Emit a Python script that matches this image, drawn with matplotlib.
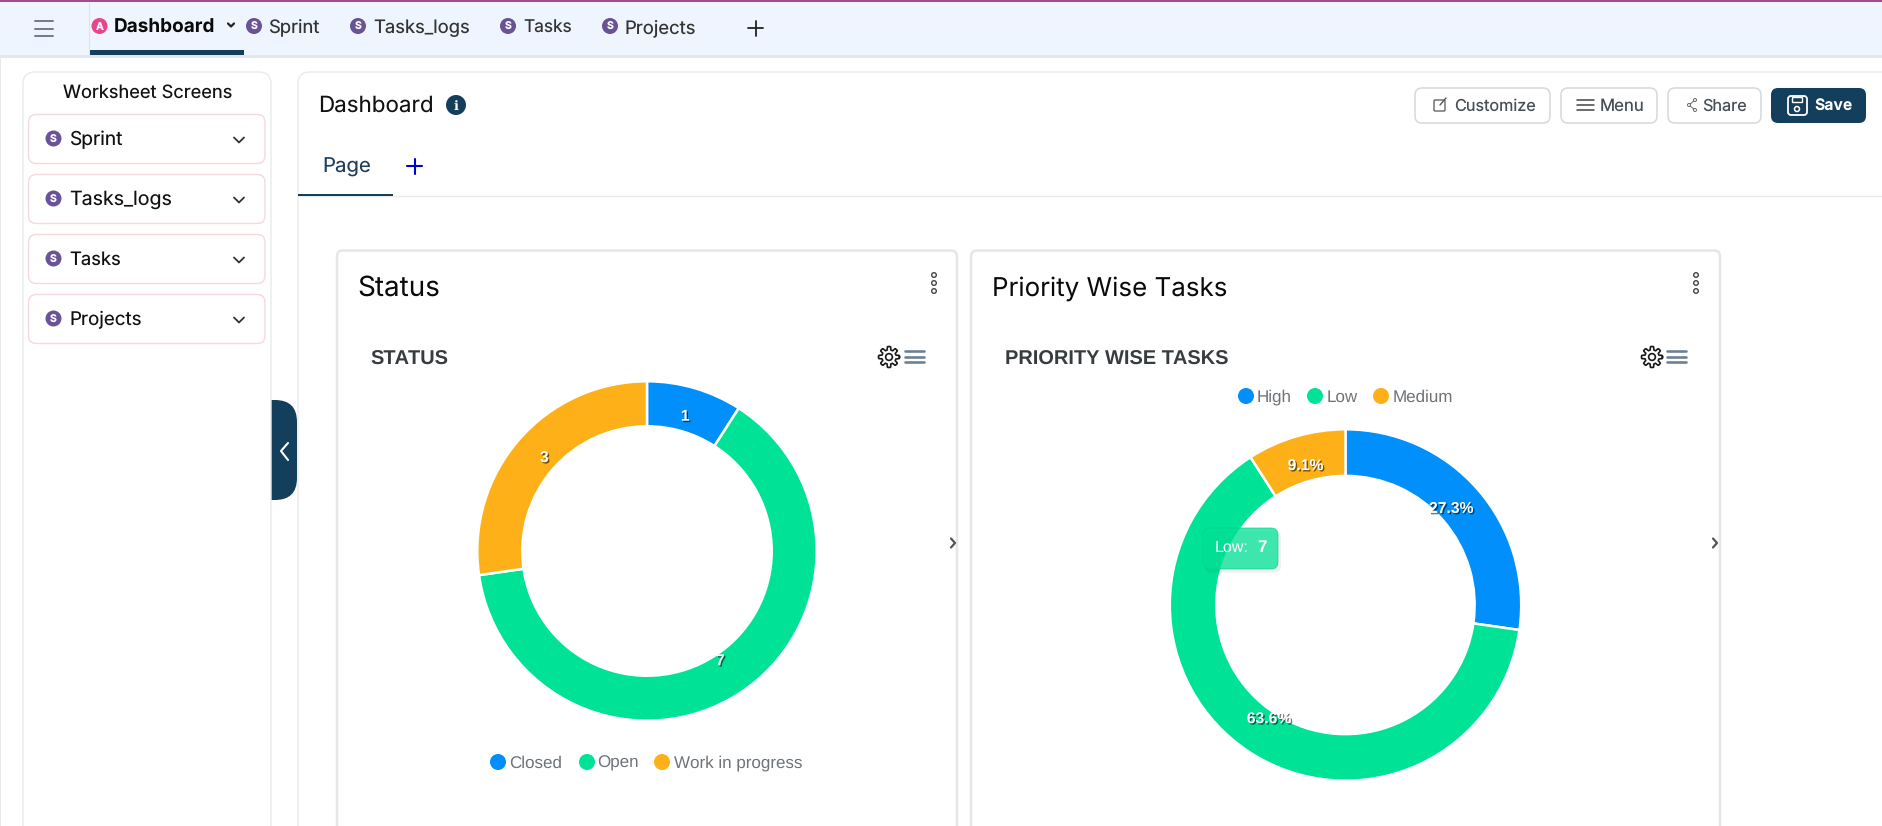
import numpy as np
import matplotlib
matplotlib.use("Agg")
import matplotlib.pyplot as plt
import matplotlib.patheffects as pe
from matplotlib.patches import FancyBboxPatch, Circle, Rectangle
from matplotlib.textpath import TextPath
from matplotlib.font_manager import FontProperties

plt.rcParams["text.hinting"] = "no_hinting"
plt.rcParams["text.hinting_factor"] = 1

W, H = 1882, 826

# ---- chart data ----
status_categories = ["Closed", "Open", "Work in progress"]
status_values = [1, 7, 3]
status_labels = ["1", "7", "3"]
priority_categories = ["High", "Low", "Medium"]
priority_values = [3, 7, 1]
priority_labels = ["27.3%", "63.6%", "9.1%"]
slice_colors = ["#008ffb", "#00e396", "#feb019"]

# ---- interface text ----
tab_names = ["Sprint", "Tasks_logs", "Tasks", "Projects"]
side_names = ["Sprint", "Tasks_logs", "Tasks", "Projects"]

DARK = "#133f5d"
UI_FONT = "Inter"
CHART_FONT = "Liberation Sans"
GREY = "#6e7378"

fig = plt.figure(figsize=(W / 100, H / 100), dpi=100, facecolor="#ffffff")


def overlay(z):
    ax = fig.add_axes([0, 0, 1, 1], zorder=z)
    ax.set_xlim(0, W)
    ax.set_ylim(H, 0)
    ax.axis("off")
    ax.patch.set_alpha(0)
    return ax


ui = overlay(0)
top = overlay(5)


def rbox(ax, x0, y0, x1, y1, rad, fc="white", ec="none", lw=1.0, alpha=None, z=1):
    p = FancyBboxPatch((x0, y0), x1 - x0, y1 - y0,
                       boxstyle=f"round,pad=0,rounding_size={rad}",
                       fc=fc, ec=ec, lw=lw, alpha=alpha, zorder=z)
    ax.add_patch(p)
    return p


def fit(ax, x0, x1, y, s, family=UI_FONT, weight="normal", color="#111111", z=4):
    """Text whose size is chosen so it spans x0..x1 pixels; y is the baseline."""
    fp = FontProperties(family=family, weight=weight)
    tp = TextPath((0, 0), s, size=10, prop=fp)
    bb = tp.get_extents()
    px_per_10pt = bb.width * 100 / 72
    size = 10 * (x1 - x0) / px_per_10pt
    return ax.text(x0, y, s, family=family, weight=weight, color=color,
                   fontsize=size, va="baseline", ha="left", zorder=z)


def seg(ax, xs, ys, color, lw=1.2, z=4):
    ax.plot(xs, ys, color=color, lw=lw, solid_capstyle="round",
            solid_joinstyle="round", zorder=z)


def burger(ax, x0, x1, y0, y1, color, lw=1.4):
    for y in np.linspace(y0, y1, 3):
        seg(ax, [x0, x1], [y, y], color, lw)


def badge(ax, x, y, letter="S", color="#6a5296", r=8):
    ax.add_patch(Circle((x, y), r, fc=color, ec="none", zorder=3))
    ax.text(x, y, letter, color="white", fontsize=7.5, weight="bold", family=UI_FONT,
            ha="center", va="center_baseline", zorder=4)


def chevron_down(ax, x, y, s=5, color="#333333", lw=1.3):
    seg(ax, [x - s, x, x + s], [y - s / 2, y + s / 2, y - s / 2], color, lw)


def plus(ax, x, y, s, color, lw=1.4):
    seg(ax, [x - s, x + s], [y, y], color, lw)
    seg(ax, [x, x], [y - s, y + s], color, lw)


def gear(ax, x, y, r=10.5):
    t = np.linspace(0, 2 * np.pi, 161)
    rr = r * (0.84 + 0.16 * np.tanh(4 * np.cos(8 * t)))
    ax.plot(x + rr * np.cos(t), y + rr * np.sin(t), color="#1a1a1a", lw=1.2, zorder=4)
    ax.add_patch(Circle((x, y), r * 0.32, fc="none", ec="#1a1a1a", lw=1.2, zorder=4))


def dots(ax, x, ys):
    for y in ys:
        ax.add_patch(Circle((x, y), 2.3, fc="white", ec="#444444", lw=1.0, zorder=4))


# ---- header ----
ui.add_patch(Rectangle((0, 0), W, 2, fc="#a04a96", ec="none", zorder=3))
ui.add_patch(Rectangle((0, 2), W, 53, fc="#eef5fe", ec="none", zorder=1))
ui.add_patch(Rectangle((0, 55), W, 2.5, fc="#e3e6ea", ec="none", zorder=2))
ui.add_patch(Rectangle((0, 57), 1.5, H, fc="#e8eaed", ec="none", zorder=2))
seg(ui, [89, 89], [2, 55], "#dde3ea", 0.8)
burger(ui, 35, 53, 21, 36, "#6f7a8e")
badge(ui, 99.5, 26, "A", "#e8458f")
fit(ui, 114, 213, 33, "Dashboard", weight="bold", color="#0a0a0a")
chevron_down(ui, 231, 25, 3, "#222222", 1.6)
ui.add_patch(Rectangle((90, 50), 154, 5, fc=DARK, ec="none", zorder=3))
tab_badges = [254, 358, 508, 610]
tab_text = [(268, 318), (373, 468), (523, 570), (625, 694)]
for name, bx, (t0, t1) in zip(tab_names, tab_badges, tab_text):
    badge(ui, bx, 26, "S")
    fit(ui, t0, t1, 33, name, color="#333333")
plus(ui, 756, 28, 7.5, "#222222", 1.3)

# ---- main panel, collapse tab, left panel ----
rbox(ui, 298, 72, W + 40, H + 40, 12, fc="white", ec="#e8eaed", lw=1.0, z=1)
rbox(ui, 250, 400, 297, 500, 22, fc=DARK, z=1.1)
rbox(ui, 23, 72, 271, H + 40, 12, fc="white", ec="#e8eaed", lw=1.0, z=1.2)
seg(ui, [288, 281, 288], [443, 451, 460], "white", 1.5)

fit(ui, 63, 231, 97.5, "Worksheet Screens", color="#111111")
side_y = [139, 199, 259, 319]
side_text = [(69, 121), (69, 170), (69, 119), (69, 139)]
for name, y, (t0, t1) in zip(side_names, side_y, side_text):
    rbox(ui, 28.5, y - 24.5, 265, y + 24.5, 8, fc="white", ec="#f6d8dd", lw=1.0, z=2)
    badge(ui, 53.5, y - 0.5)
    fit(ui, t0, t1, y + 6, name, color="#111111")
    chevron_down(ui, 239, y + 1)

# ---- dashboard heading ----
fit(ui, 318, 430, 112, "Dashboard", color="#111111")
ui.add_patch(Circle((456, 105), 10, fc=DARK, ec="none", zorder=3))
ui.text(456, 105, "i", color="white", fontsize=9, weight="bold", family="DejaVu Serif",
        ha="center", va="center_baseline", zorder=4)

buttons = [("Customize", 1415, 1550, 1454, 1534),
           ("Menu", 1561, 1657, 1600, 1642),
           ("Share", 1668, 1761, 1702, 1745)]
for label, b0, b1, t0, t1 in buttons:
    rbox(ui, b0, 88, b1, 123, 7, fc="white", ec="#d5d8dc", lw=1.1, z=2)
    fit(ui, t0, t1, 110.5, label, color="#454d55")
rbox(ui, 1771, 88, 1866, 123, 7, fc=DARK, z=2)
fit(ui, 1814, 1851, 110.5, "Save", weight="bold", color="white")
# button icons
rbox(ui, 1434, 100, 1445, 111, 1, fc="none", ec="#555555", lw=0.9, z=4)
seg(ui, [1440, 1446], [105, 98], "#555555", 1.0)
burger(ui, 1577, 1594, 100, 110, "#444444", 1.1)
seg(ui, [1695, 1689, 1695], [100, 105, 110], "#666666", 0.7)
for py, px in zip([100, 105, 110], [1695, 1689, 1695]):
    ui.add_patch(Circle((px, py), 1.5, fc="white", ec="#666666", lw=0.7, zorder=5))
rbox(ui, 1788, 96, 1807, 115, 3, fc="none", ec="white", lw=1.3, z=4)
ui.add_patch(Circle((1797, 109), 2.5, fc="none", ec="white", lw=1.1, zorder=5))
ui.add_patch(Rectangle((1792, 97), 10, 5, fc="none", ec="white", lw=1.0, zorder=5))

# ---- page tab strip ----
fit(ui, 322, 368, 173, "Page", color="#1f3f5b")
plus(ui, 415, 166, 7.5, "#0000cc", 1.5)
seg(ui, [298, W], [196, 196], "#e8eaed", 1.0, z=2)
ui.add_patch(Rectangle((298, 194), 95, 2, fc=DARK, ec="none", zorder=3))

# ---- cards ----
cards = [
    (337, 957, 357, 437, "Status", 934, 370, 446, "STATUS", 889, 905, 925, 953),
    (971, 1720, 992, 1224, "Priority Wise Tasks", 1696, 1005, 1227, "PRIORITY WISE TASKS",
     1652, 1667, 1687, 1715),
]
for c0, c1, t0, t1, title, dx, s0, s1, sub, gx, b0, b1, ax_ in cards:
    rbox(ui, c0, 250.5, c1, H + 40, 6, fc="white", ec="#e4e6e9", lw=1.8, z=2)
    fit(ui, t0, t1, 295.5, title, color="#0a0a0a")
    dots(ui, dx, [275, 283, 291])
    fit(ui, s0, s1, 364.5, sub, family=CHART_FONT, weight="bold", color="#373d3f")
    gear(ui, gx, 357)
    burger(ui, b0 + 0.5, b1 - 0.5, 351, 362, "#6e8192", 1.9)
    seg(ui, [ax_ - 2, ax_ + 2, ax_ - 2], [538.5, 543, 547.5], "#555555", 1.6)


# ---- donuts ----
def donut(values, labels, cx, cy, r, label_size):
    axp = fig.add_axes([(cx - r) / W, 1 - (cy + r) / H, 2 * r / W, 2 * r / H], zorder=3)
    wedges, _ = axp.pie(values, colors=slice_colors, startangle=90, counterclock=False,
                        radius=1.0, wedgeprops=dict(width=0.265, edgecolor="white", linewidth=1.8))
    for w in wedges:
        w.set_clip_on(False)
    axp.set_xlim(-1, 1)
    axp.set_ylim(-1, 1)
    axp.set_aspect("equal")
    axp.axis("off")
    for w, lab in zip(wedges, labels):
        ang = np.deg2rad((w.theta1 + w.theta2) / 2)
        t = axp.annotate(lab, (0.8 * np.cos(ang), 0.8 * np.sin(ang)), xytext=(0, 3.0),
                         textcoords="offset points", ha="center", va="center",
                         family=CHART_FONT, weight="bold", fontsize=label_size,
                         color="white", zorder=6)
        t.set_path_effects([pe.withSimplePatchShadow(offset=(1, -1), shadow_rgbFace="#000000", alpha=0.55)])


donut(status_values, status_labels, 647, 551, 169.7, 11.3)
donut(priority_values, priority_labels, 1345.5, 605, 175.7, 11.3)


# ---- legends ----
def legend(ax, categories, y, dot_x, text_x):
    for name, col, dx, tx in zip(categories, slice_colors, dot_x, text_x):
        ax.add_patch(Circle((dx, y), 8, fc=col, ec="none", zorder=4))
        ax.text(tx, y + 5.5, name, family=CHART_FONT, fontsize=12.55, color=GREY,
                va="baseline", ha="left", zorder=4)


legend(ui, status_categories, 762, [498, 587, 662], [509, 597, 674])
legend(ui, priority_categories, 396, [1246, 1315, 1381], [1257, 1327, 1393])

# ---- tooltip ----
rbox(top, 1205, 531, 1281, 573, 7, fc="#000000", alpha=0.05, z=1)
rbox(top, 1203, 528, 1278, 569, 7, fc="#00e396", ec="#00d08a", lw=0.6, alpha=0.75, z=2)
top.text(1215, 552, "Low:", family=CHART_FONT, fontsize=11.5, color="white",
         va="baseline", ha="left", zorder=3)
top.text(1257, 552, "7", family=CHART_FONT, fontsize=12.5, weight="bold", color="white",
         va="baseline", ha="left", zorder=3)

fig.savefig("out.png", dpi=100, facecolor=fig.get_facecolor())
